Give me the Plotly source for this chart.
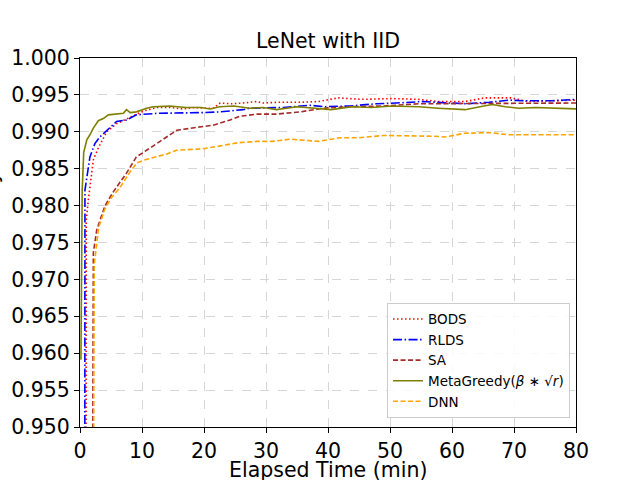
import plotly.graph_objects as go

# values (time in minutes, accuracy)
bods_t = [0.95, 1.0, 1.35, 2.15, 2.95, 4.3, 5.9, 8.1, 10.2, 12.4, 14.5, 16.5, 18.5, 20.0, 21.5, 22.6, 24.5, 26.3,
          28.5, 29.5, 32.0, 35.5, 38.5, 41.7, 45.4, 50.3, 54.6, 57.8, 62.1, 65.3, 69.5, 72.2, 76.0, 80.0]
bods_acc = [0.900, 0.978, 0.9808, 0.9862, 0.9878, 0.9900, 0.9911, 0.9920, 0.9928, 0.9933, 0.9933, 0.9931, 0.9933,
            0.9932, 0.9932, 0.9939, 0.9938, 0.9939, 0.9941, 0.9939, 0.9940, 0.9940, 0.9941, 0.9946, 0.9944, 0.9945,
            0.9944, 0.9941, 0.9941, 0.9946, 0.9946, 0.9941, 0.9942, 0.9943]

rlds_t = [0.75, 0.8, 1.6, 2.4, 3.2, 4.3, 5.9, 7.5, 9.1, 12.4, 16.1, 19.8, 22.6, 26.3, 27.4, 30.6, 32.8, 37.1, 39.3,
          43.6, 47.8, 51.0, 55.3, 59.6, 62.3, 66.0, 69.3, 71.4, 76.0, 80.0]
rlds_acc = [0.900, 0.9821, 0.9866, 0.9884, 0.9893, 0.9902, 0.9914, 0.9916, 0.9923, 0.9925, 0.9925, 0.9926, 0.9927,
            0.9930, 0.9932, 0.9932, 0.9933, 0.9936, 0.9934, 0.9935, 0.9938, 0.9939, 0.9941, 0.9939, 0.9938, 0.9940,
            0.9943, 0.9942, 0.9942, 0.9944]

sa_t = [1.9, 2.15, 2.7, 4.0, 4.6, 5.4, 7.5, 9.1, 10.75, 12.9, 15.6, 18.8, 21.5, 24.2, 25.8, 28.5, 31.7, 35.5, 39.3,
        43.6, 49.0, 54.6, 59.6, 65.0, 70.8, 76.0, 80.0]
sa_acc = [0.900, 0.9736, 0.9767, 0.9799, 0.9808, 0.9819, 0.9844, 0.9866, 0.9875, 0.9887, 0.9902, 0.9906, 0.9909,
          0.9916, 0.9921, 0.9924, 0.9924, 0.9927, 0.9932, 0.9934, 0.9935, 0.9938, 0.9938, 0.9939, 0.9939, 0.9939,
          0.9939]

meta_t = [0.15, 0.35, 0.6, 1.1, 1.6, 2.15, 2.95, 3.76, 4.57, 5.9, 7.0, 7.5, 8.1, 9.1, 10.75, 11.8, 14.5, 17.0, 19.5,
          21.0, 22.5, 24.8, 27.4, 29.5, 31.7, 35.0, 38.5, 40.5, 43.9, 47.0, 50.3, 54.6, 57.8, 62.1, 64.5, 66.5, 68.6,
          70.8, 73.5, 76.0, 80.0]
meta_acc = [0.9591, 0.982, 0.9872, 0.9889, 0.9896, 0.9905, 0.9915, 0.9918, 0.9923, 0.9924, 0.9925, 0.9930, 0.9926,
            0.9927, 0.9932, 0.9934, 0.9935, 0.9933, 0.9933, 0.9931, 0.9934, 0.9935, 0.9932, 0.9933, 0.9930, 0.9934,
            0.9932, 0.9930, 0.9934, 0.9933, 0.9935, 0.9934, 0.9932, 0.9930, 0.9934, 0.9937, 0.9934, 0.9932, 0.9933,
            0.9932, 0.9931]

dnn_t = [2.0, 2.3, 3.0, 4.0, 5.0, 6.5, 8.0, 9.2, 10.5, 12.4, 14.0, 15.6, 19.8, 22.0, 25.3, 28.5, 31.0, 34.0, 36.0,
         38.5, 42.0, 45.0, 49.0, 54.0, 57.0, 59.0, 62.0, 66.0, 69.0, 75.0, 80.0]
dnn_acc = [0.900, 0.9720, 0.9770, 0.9795, 0.9810, 0.9825, 0.9845, 0.9858, 0.9862, 0.9866, 0.9870, 0.9875, 0.9877,
           0.9880, 0.9885, 0.9887, 0.9887, 0.9890, 0.9889, 0.9887, 0.9892, 0.9892, 0.9895, 0.9895, 0.9894, 0.9893,
           0.9898, 0.9899, 0.9896, 0.9896, 0.9896]

y_ticks = [0.950, 0.955, 0.960, 0.965, 0.970, 0.975, 0.980, 0.985, 0.990, 0.995, 1.000]
x_ticks = [0, 10, 20, 30, 40, 50, 60, 70, 80]

font = "DejaVu Sans"
fsize = 20.5

fig = go.Figure()
fig.add_trace(go.Scatter(x=bods_t, y=bods_acc, name="BODS", mode="lines",
                         line=dict(color="red", width=1.6, dash="1.5px,2.5px")))
fig.add_trace(go.Scatter(x=rlds_t, y=rlds_acc, name="RLDS", mode="lines",
                         line=dict(color="blue", width=1.6, dash="9px,2.5px,1.5px,2.5px")))
fig.add_trace(go.Scatter(x=sa_t, y=sa_acc, name="SA", mode="lines",
                         line=dict(color="brown", width=1.6, dash="5px,2.5px")))
fig.add_trace(go.Scatter(x=meta_t, y=meta_acc, name="MetaGreedy(<i>β</i> ∗ √<i>r</i>)", mode="lines",
                         line=dict(color="olive", width=1.6)))
fig.add_trace(go.Scatter(x=dnn_t, y=dnn_acc, name="DNN", mode="lines",
                         line=dict(color="orange", width=1.6, dash="5px,2.5px")))

axis_style = dict(showline=True, linecolor="black", linewidth=1, mirror=True, ticks="outside", ticklen=5,
                  tickcolor="black", showgrid=True, gridcolor="#d6d6d6", griddash="dash", gridwidth=1,
                  zeroline=False, automargin=False, tickfont=dict(family=font, size=fsize, color="black"))

fig.update_layout(
    width=640, height=480,
    margin=dict(l=80, r=64, t=58, b=53),
    plot_bgcolor="white", paper_bgcolor="white",
    font=dict(family=font, color="black"),
    title=dict(text="LeNet with IID", x=0.5, xref="paper", xanchor="center", y=1 - 41 / 480, yanchor="middle",
               font=dict(family=font, size=fsize, color="black")),
    xaxis=dict(range=[0, 80], tickvals=x_ticks, **axis_style),
    yaxis=dict(range=[0.950, 1.000], tickvals=y_ticks, tickformat=".3f", **axis_style),
    legend=dict(x=0.988, xanchor="right", y=0.025, yanchor="bottom", bgcolor="rgba(255,255,255,0.85)",
                bordercolor="#cccccc", borderwidth=1, font=dict(family=font, size=13.5, color="black"),
                itemwidth=30, tracegroupgap=0),
    showlegend=True,
)

# x axis title placed by hand just under the tick labels
fig.add_annotation(text="Elapsed Time (min)", xref="paper", yref="paper", x=0.5, y=-43 / 369,
                   xanchor="center", yanchor="middle", showarrow=False, font=dict(family=font, size=fsize))

# y label lies mostly outside the canvas in the reference; only a sliver shows
fig.add_annotation(text="Test Accuracy", textangle=-90, xref="paper", yref="paper", x=-90 / 496, y=0.5,
                   xanchor="center", yanchor="middle", showarrow=False, font=dict(family=font, size=fsize))

# drop the browser's default page margin so the figure sits at the top-left corner
fig.write_html("out.html", config={"displayModeBar": False},
               post_script="document.body.style.margin = '0';")
